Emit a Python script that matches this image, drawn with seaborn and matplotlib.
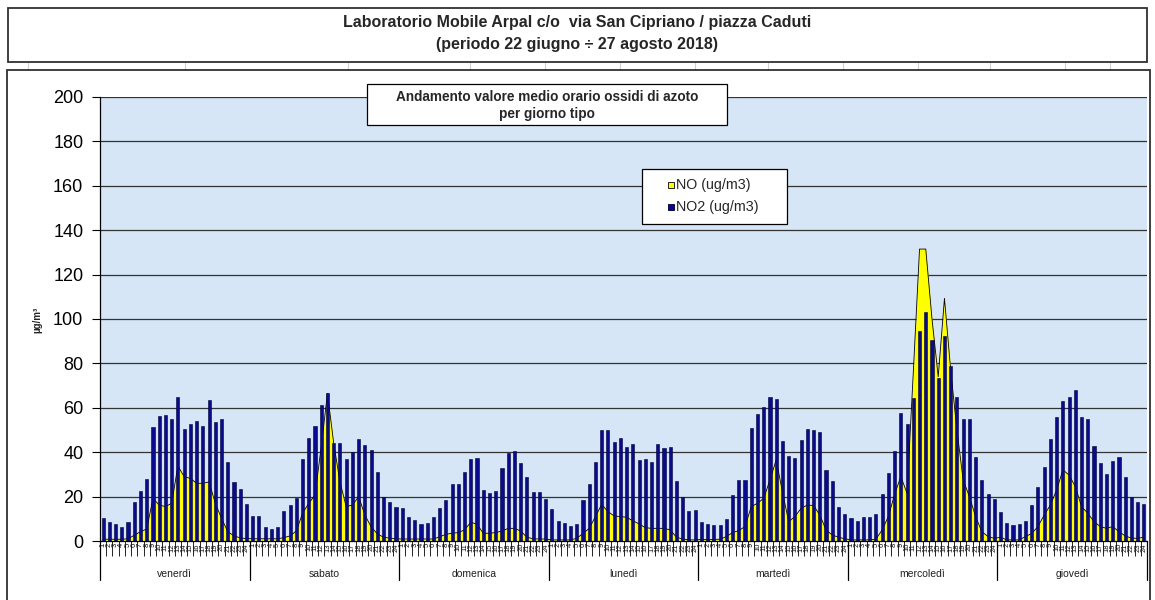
import numpy as np
import pandas as pd
import matplotlib
matplotlib.use("Agg")
import matplotlib.pyplot as plt
from matplotlib.patches import Rectangle
import seaborn as sns

# Giorni tipo e ore del giorno
giorni = ["venerdì", "sabato", "domenica", "lunedì", "martedì", "mercoledì", "giovedì"]
ore = list(range(1, 25))

# NO2 (ug/m3) - media oraria per giorno tipo
no2_venerdi = [10.5, 8.7, 7.8, 6.3, 8.4, 17.6, 22.7, 27.8, 51.2, 56.3, 56.8, 54.8,
               65.0, 50.3, 52.8, 54.2, 51.6, 63.4, 53.7, 54.8, 35.4, 26.7, 23.4, 16.5]
no2_sabato = [11.4, 11.4, 6.3, 5.2, 6.3, 13.5, 16.1, 19.2, 36.9, 46.5, 51.6, 61.4,
              66.5, 44.1, 44.1, 36.9, 40.0, 46.1, 43.1, 41.0, 31.2, 19.8, 17.4, 15.5]
no2_domenica = [15.0, 10.8, 9.3, 7.8, 8.3, 11.0, 15.0, 18.5, 25.7, 25.7, 30.9, 36.9,
                37.4, 23.0, 21.6, 22.5, 32.7, 39.8, 40.4, 35.0, 28.7, 22.0, 22.0, 19.0]
no2_lunedi = [14.4, 8.9, 8.3, 6.8, 7.8, 18.5, 25.5, 35.4, 50.0, 50.0, 44.4, 46.5,
              42.3, 43.5, 36.5, 36.9, 35.4, 43.5, 41.9, 42.3, 27.2, 19.7, 13.4, 14.0]
no2_martedi = [8.7, 7.8, 7.1, 7.2, 9.8, 20.6, 27.3, 27.3, 51.0, 57.3, 60.2, 64.9,
               63.8, 44.9, 38.3, 37.2, 45.5, 50.5, 50.0, 49.1, 32.1, 27.2, 15.5, 12.3]
no2_mercoledi = [10.3, 9.0, 11.0, 11.0, 12.3, 21.2, 30.8, 40.5, 57.8, 52.7, 64.6, 94.6,
                 103.3, 90.5, 73.6, 92.3, 78.8, 65.0, 54.8, 54.8, 37.8, 27.3, 21.2, 19.1]
no2_giovedi = [12.9, 8.3, 7.4, 7.7, 9.0, 16.4, 24.5, 33.2, 45.9, 55.7, 63.2, 64.9,
               67.9, 55.7, 55.1, 42.8, 35.3, 30.3, 35.9, 37.8, 29.0, 19.8, 17.6, 16.5]

# NO (ug/m3) - media oraria per giorno tipo
no_venerdi = [0.8, 0.8, 0.8, 0.8, 1.0, 2.6, 4.2, 5.4, 19.2, 16.2, 15.5, 17.0,
              33.8, 29.0, 28.2, 26.0, 26.0, 26.6, 17.0, 10.2, 4.2, 2.3, 1.4, 1.1]
no_sabato = [1.0, 1.0, 1.0, 1.0, 1.0, 1.5, 2.3, 4.5, 12.5, 17.0, 20.7, 42.5,
             66.5, 44.0, 26.7, 15.5, 16.2, 20.0, 11.7, 6.4, 3.2, 1.7, 1.3, 1.0]
no_domenica = [0.9, 0.9, 0.9, 0.9, 0.9, 0.9, 1.9, 3.0, 3.5, 3.8, 5.0, 8.5,
               7.5, 3.5, 3.5, 3.8, 4.5, 5.7, 5.7, 4.5, 1.7, 1.0, 0.9, 0.9]
no_lunedi = [0.5, 0.5, 0.5, 0.5, 1.2, 3.4, 5.7, 11.0, 16.5, 13.2, 11.3, 11.0,
             10.7, 9.1, 7.7, 6.0, 5.7, 5.7, 5.7, 5.0, 1.7, 0.9, 0.5, 0.5]
no_martedi = [0.7, 0.7, 0.7, 0.8, 2.0, 3.8, 4.7, 6.5, 15.5, 17.0, 19.2, 27.5,
              36.5, 22.2, 8.7, 11.0, 14.7, 16.2, 16.0, 11.7, 5.0, 2.7, 1.7, 1.0]
no_mercoledi = [0.5, 0.5, 0.5, 0.5, 0.8, 5.0, 11.0, 21.0, 29.0, 21.5, 76.0, 131.5,
                131.5, 100.0, 74.0, 109.3, 77.0, 50.0, 27.5, 20.0, 11.0, 4.2, 2.0, 1.2]
no_giovedi = [1.7, 0.5, 0.5, 0.5, 2.0, 3.4, 6.5, 11.7, 16.2, 23.0, 32.0, 29.7,
              24.5, 15.5, 12.5, 8.7, 6.5, 5.7, 6.5, 4.2, 2.3, 1.3, 1.2, 1.7]

no2 = (no2_venerdi + no2_sabato + no2_domenica + no2_lunedi
       + no2_martedi + no2_mercoledi + no2_giovedi)
no = (no_venerdi + no_sabato + no_domenica + no_lunedi
      + no_martedi + no_mercoledi + no_giovedi)

df = pd.DataFrame({
    "pos": np.arange(len(no2)),
    "giorno": np.repeat(giorni, len(ore)),
    "ora": ore * len(giorni),
    "NO2": no2,
    "NO": no,
})

sns.set_theme(style="white")
plt.rcParams["font.family"] = ["Liberation Sans", "DejaVu Sans"]

W, H = 1155, 600
fig = plt.figure(figsize=(W / 100, H / 100), dpi=100)
fig.patch.set_facecolor("white")


def fx(p):
    return p / W


def fy(p):
    return 1 - p / H


narrow = ["Liberation Sans Narrow", "Liberation Sans", "DejaVu Sans"]

# Riquadro del titolo generale
fig.add_artist(Rectangle((fx(8), fy(62)), fx(1147) - fx(8), fy(8) - fy(62),
                         transform=fig.transFigure, facecolor="white",
                         edgecolor="#303030", linewidth=1.3, zorder=1))
fig.text(fx(577), fy(23), "Laboratorio Mobile Arpal c/o  via San Cipriano / piazza Caduti",
         ha="center", va="center", fontsize=11.5, fontweight="bold", family=narrow)
fig.text(fx(577), fy(44), "(periodo 22 giugno ÷ 27 agosto 2018)",
         ha="center", va="center", fontsize=11.5, fontweight="bold", family=narrow)

# Righe leggere del foglio tra i due riquadri
for xc in [28, 185, 348, 470, 545, 620, 695, 768, 843, 918, 990, 1065, 1110]:
    fig.add_artist(plt.Line2D([fx(xc), fx(xc)], [fy(70), fy(62)], transform=fig.transFigure,
                              color="#D0D0D0", linewidth=0.8, zorder=0.5))

# Cornice dell'area grafico
fig.add_artist(Rectangle((fx(7), fy(640)), fx(1150) - fx(7), fy(70) - fy(640),
                         transform=fig.transFigure, facecolor="none",
                         edgecolor="#303030", linewidth=1.3, zorder=1))

L, R, T, B = 100, 1147, 97, 541
ax = fig.add_axes([fx(L), fy(B), fx(R) - fx(L), fy(T) - fy(B)])
ax.set_facecolor("#D6E6F6")

# NO come area gialla dietro le barre
ax.fill_between(df["pos"], df["NO"], 0, color="#FFFF00", linewidth=0, zorder=1.2)
sns.lineplot(data=df, x="pos", y="NO", ax=ax, color="black", linewidth=0.6,
             zorder=1.3, legend=False)

# NO2 come barre blu
sns.barplot(data=df, x="pos", y="NO2", ax=ax, color="#0A0A8E", saturation=1,
            width=0.5, edgecolor="#000030", linewidth=0.4, errorbar=None,
            zorder=2)

ax.set_xlim(-0.5, len(no2) - 0.5)
ax.set_ylim(0, 200)
ax.set_yticks(np.arange(0, 201, 20))
ax.set_axisbelow(True)
ax.yaxis.grid(True, color="#333333", linewidth=0.9)
ax.xaxis.grid(False)
ax.set_xlabel("")
ax.set_ylabel("")

ax.tick_params(axis="y", labelsize=13, length=6, width=0.8, color="black",
               pad=6, left=True, labelcolor="black")

# Tacche ai confini delle ore, etichette delle ore al centro
ax.set_xticks(np.arange(-0.5, len(no2), 1), labels=[""] * (len(no2) + 1))
ax.set_xticks(np.arange(len(no2)), labels=[str(h) for h in df["ora"]], minor=True)
ax.tick_params(axis="x", which="major", length=11, width=0.6, color="black",
               direction="out", bottom=True)
ax.tick_params(axis="x", which="minor", length=0, labelsize=5.5, rotation=90,
               pad=1.5, labelcolor="#101010", bottom=True)

for s in ["top", "right"]:
    ax.spines[s].set_visible(False)
for s in ["left", "bottom"]:
    ax.spines[s].set_color("black")
    ax.spines[s].set_linewidth(0.9)

# Separatori e nomi dei giorni
xtr = ax.get_xaxis_transform()
sep_depth = -(580 - B) / (B - T)
lab_y = -(574 - B) / (B - T)
for k in range(len(giorni) + 1):
    ax.plot([k * 24 - 0.5, k * 24 - 0.5], [0, sep_depth], transform=xtr,
            color="black", linewidth=0.9, clip_on=False)
for k, g in enumerate(giorni):
    ax.text(k * 24 + 11.5, lab_y, g, transform=xtr, ha="center", va="center",
            fontsize=7.5, color="#202020")

fig.text(fx(37), fy(320), "µg/m³", rotation=90, ha="center", va="center",
         fontsize=7, fontweight="bold")

# Titolo del grafico
fig.add_artist(Rectangle((fx(367), fy(125)), fx(727) - fx(367), fy(84) - fy(125),
                         transform=fig.transFigure, facecolor="white",
                         edgecolor="black", linewidth=0.9, zorder=3))
fig.text(fx(547), fy(97), "Andamento valore medio orario ossidi di azoto",
         ha="center", va="center", fontsize=9.8, fontweight="bold", zorder=4)
fig.text(fx(547), fy(114), "per giorno tipo",
         ha="center", va="center", fontsize=9.8, fontweight="bold", zorder=4)

# Legenda
fig.add_artist(Rectangle((fx(642), fy(224)), fx(787) - fx(642), fy(169) - fy(224),
                         transform=fig.transFigure, facecolor="white",
                         edgecolor="black", linewidth=0.9, zorder=3))
voci = [("NO (ug/m3)", "#FFFF00", 185), ("NO2 (ug/m3)", "#0000CC", 207)]
for testo, col, yy in voci:
    fig.add_artist(Rectangle((fx(668), fy(yy + 3)), fx(674) - fx(668), fy(yy - 3) - fy(yy + 3),
                             transform=fig.transFigure, facecolor=col,
                             edgecolor="black", linewidth=0.6, zorder=4))
    fig.text(fx(676), fy(yy), testo, ha="left", va="center", fontsize=10.3, zorder=4)

fig.savefig("out.png", dpi=100)
